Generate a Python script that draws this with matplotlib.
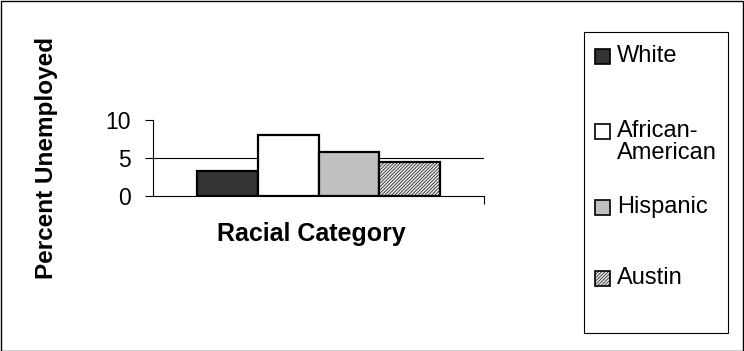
import matplotlib.pyplot as plt
from matplotlib.patches import Rectangle
import numpy as np

plt.rcParams['font.family'] = ['Liberation Sans', 'DejaVu Sans']
plt.rcParams['hatch.color'] = '#8a8a8a'
plt.rcParams['hatch.linewidth'] = 0.45

# data
groups = ['White', 'African-\nAmerican', 'Hispanic', 'Austin']
values = [3.3, 8.0, 5.8, 4.5]
colors = ['#333333', '#ffffff', '#c0c0c0', '#e4e4e4']
hatches = [None, None, None, '//////////']
yticks = [0, 5, 10]

W, H = 744, 351
fig = plt.figure(figsize=(W / 100, H / 100), dpi=100)

# outer border
fig.patches.append(Rectangle((0.5 / W, 0.5 / H), 1 - 1.5 / W, 1 - 1.5 / H,
                             transform=fig.transFigure, fill=False,
                             edgecolor='black', lw=1))

ax = fig.add_axes([153 / W, 1 - 196 / H, 331 / W, 76 / H])
bw = 0.1835
xs = (np.arange(len(values)) - 1.5) * bw
for x, v, c, h in zip(xs, values, colors, hatches):
    ax.bar(x, v, width=bw, color=c, edgecolor='black', lw=1.6, hatch=h, zorder=3)

ax.set_xlim(-0.5, 0.5)
ax.set_ylim(0, 10)
ax.set_yticks(yticks)
ax.set_yticklabels([str(t) for t in yticks], fontsize=16.5)
ax.axhline(5, color='black', lw=0.8, zorder=1)
ax.set_xticks([0.5])
ax.set_xticklabels([''])
ax.tick_params(axis='x', length=6, width=0.8, direction='out')
ax.tick_params(axis='y', length=6, width=0.8, pad=10)
for s in ['top', 'right']:
    ax.spines[s].set_visible(False)
for s in ['left', 'bottom']:
    ax.spines[s].set_linewidth(0.8)

fig.text(311 / W, 1 - 234 / H, 'Racial Category', ha='center', va='center',
         fontsize=18, fontweight='bold')
fig.text(47 / W, 1 - 158 / H, 'Percent Unemployed', ha='center', va='center',
         rotation=90, fontsize=17.5, fontweight='bold')

# legend box
fig.patches.append(Rectangle((584 / W, 1 - 333 / H), 144 / W, 301 / H,
                             transform=fig.transFigure, fill=False,
                             edgecolor='black', lw=0.8))
label_y = [56, 142, 207, 278]
for g, c, h, y in zip(groups, colors, hatches, label_y):
    sq_y = y if '\n' not in g else y - 10
    fig.patches.append(Rectangle((595 / W, 1 - (sq_y + 7.5) / H), 15 / W, 15 / H,
                                 transform=fig.transFigure, facecolor=c,
                                 edgecolor='black', lw=1.2, hatch=h))
    fig.text(617 / W, 1 - y / H, g, ha='left', va='center', fontsize=17,
             linespacing=0.95)

fig.savefig('out.png', dpi=100)
